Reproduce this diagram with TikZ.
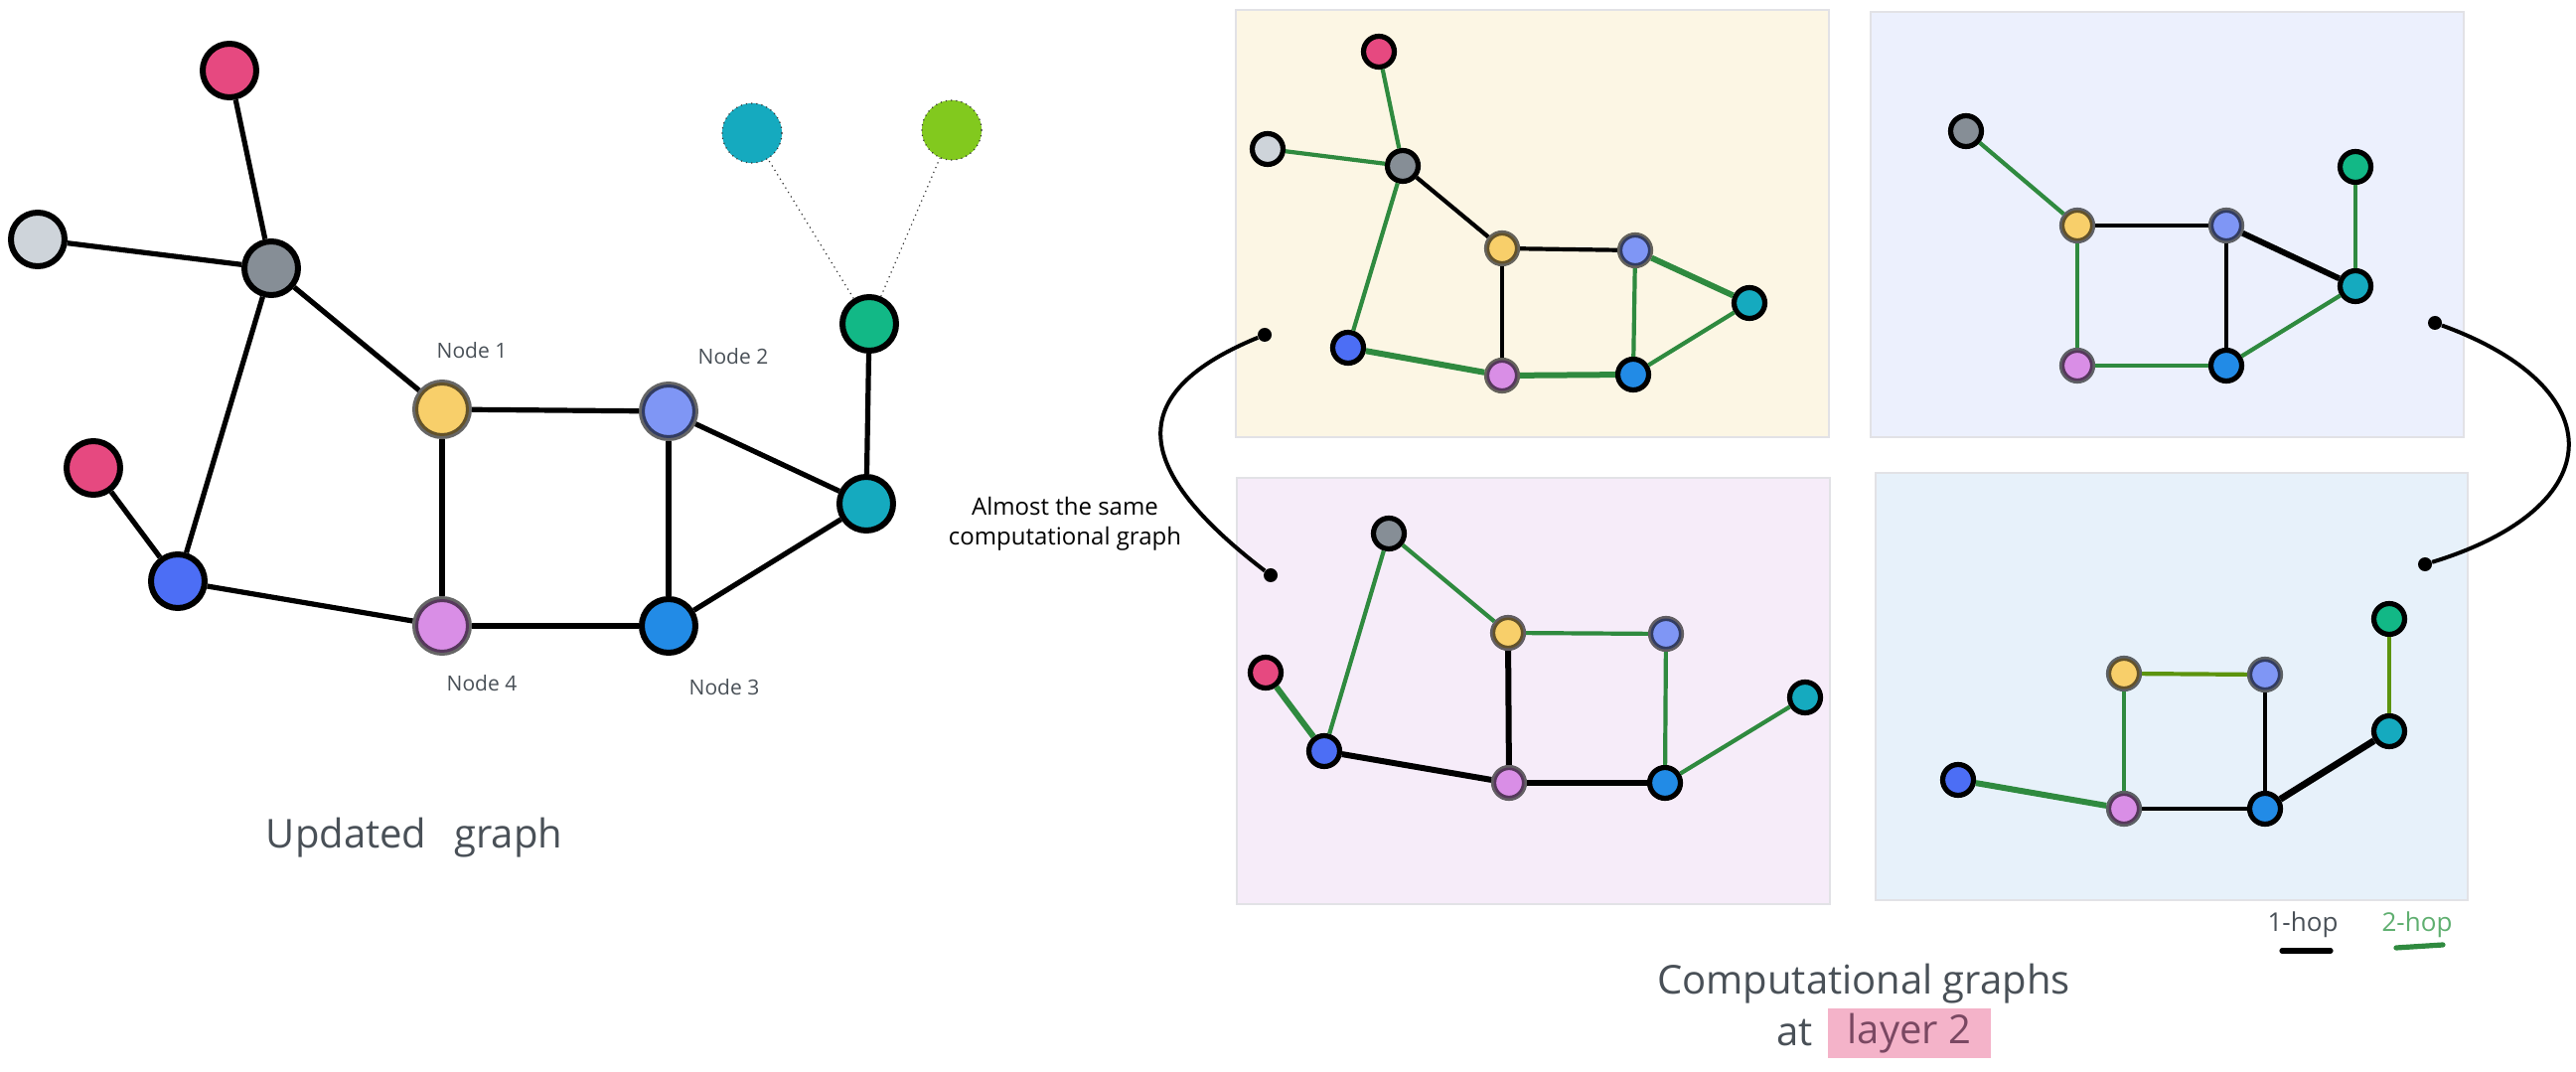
\documentclass[tikz,border=0pt]{standalone}
\usepackage{fontspec}
\setmainfont{Open Sans}
\definecolor{cpink}{HTML}{E64980}
\definecolor{clgrey}{HTML}{CED4DA}
\definecolor{cgrey}{HTML}{868E96}
\definecolor{cyellow}{HTML}{F8CF6A}
\definecolor{cperi}{HTML}{7F96F5}
\definecolor{cteal}{HTML}{15AABF}
\definecolor{cgreen}{HTML}{12B886}
\definecolor{croyal}{HTML}{4C6EF5}
\definecolor{cviolet}{HTML}{D98EE6}
\definecolor{cblue}{HTML}{228BE6}
\definecolor{clime}{HTML}{82C91E}
\definecolor{egreen}{HTML}{2F8A3F}
\definecolor{eolive}{HTML}{5C940D}
\definecolor{txtgrey}{HTML}{495057}
\definecolor{hopgreen}{HTML}{5FAF70}
\definecolor{hlpink}{HTML}{F4B3C9}
\definecolor{hltext}{HTML}{7A4862}
\definecolor{bgA}{HTML}{FCF6E4}
\definecolor{bgB}{HTML}{ECF0FD}
\definecolor{bgC}{HTML}{F6ECF9}
\definecolor{bgD}{HTML}{E7F1FA}
\definecolor{panelborder}{HTML}{E2E2E6}
\tikzset{
  bignode/.style={circle, minimum size=27pt, inner sep=0pt, line width=3pt, draw=black},
  smallnode/.style={circle, minimum size=15.5pt, inner sep=0pt, line width=2.6pt, draw=black},
  soft/.style={draw opacity=0.6},
  ghost/.style={circle, minimum size=30pt, inner sep=0pt, draw=black!80, dotted, line width=0.6pt},
  eleft/.style={line width=2.6pt, black},
  eblack/.style={line width=2.1pt, black},
  egr/.style={line width=2.1pt, egreen},
  eol/.style={line width=2.1pt, eolive},
  heavy/.style={line width=3pt},
  dotline/.style={dotted, line width=0.6pt, black!80},
  dotnode/.style={circle, fill=black, minimum size=7pt, inner sep=0pt},
  link/.style={line width=2pt, black},
  panel/.style={draw=panelborder, line width=0.6pt},
  nodelabel/.style={text=txtgrey, font=\fontsize{10.5}{12}\selectfont},
  title/.style={text=txtgrey, font=\fontsize{20}{24}\selectfont},
}
\begin{document}
\begin{tikzpicture}[x=0.5pt,y=-0.5pt]
\useasboundingbox (0,0) rectangle (2593,1079);
\fill[white] (0,0) rectangle (2593,1079);

% ---------------- Left: updated graph ----------------
\node[bignode, fill=cpink]   (Lpk1) at (231,71) {};
\node[bignode, fill=clgrey]  (Lgl)  at (38,241) {};
\node[bignode, fill=cgrey]   (Lgy)  at (273,270) {};
\node[bignode, fill=cpink]   (Lpk2) at (94,471) {};
\node[bignode, fill=croyal]  (Lrb)  at (179,585) {};
\node[bignode, soft, fill=cyellow] (Ly) at (445,412) {};
\node[bignode, soft, fill=cperi]   (Lp) at (673,414) {};
\node[bignode, fill=cteal]   (Lt)   at (872,507) {};
\node[bignode, fill=cgreen]  (Lg)   at (875,326) {};
\node[ghost, fill=cteal]     (Lc)   at (757,134) {};
\node[ghost, fill=clime]     (Ll)   at (958,131) {};
\node[bignode, soft, fill=cviolet] (Lv) at (445,630) {};
\node[bignode, fill=cblue]   (Lb)   at (673,630) {};

\draw[eleft] (Lpk1) -- (Lgy);
\draw[eleft] (Lgl) -- (Lgy);
\draw[eleft] (Lgy) -- (Ly);
\draw[eleft] (Lgy) -- (Lrb);
\draw[eleft] (Lpk2) -- (Lrb);
\draw[eleft] (Lrb) -- (Lv);
\draw[eleft] (Ly) -- (Lp);
\draw[eleft] (Ly) -- (Lv);
\draw[eleft] (Lp) -- (Lt);
\draw[eleft] (Lp) -- (Lb);
\draw[eleft] (Lt) -- (Lb);
\draw[eleft] (Lt) -- (Lg);
\draw[eleft] (Lv) -- (Lb);
\draw[dotline] (Lg) -- (Lc);
\draw[dotline] (Lg) -- (Ll);

\node[nodelabel] (t1) at (475,353) {Node 1};
\node[nodelabel] (t2) at (738,359) {Node 2};
\node[nodelabel] (t4) at (485,688) {Node 4};
\node[nodelabel] (t3) at (729,692) {Node 3};

\node[title] (upd) at (417,843) {Updated\hspace{0.7em}graph};

% ---------------- Panels ----------------
\fill[bgA] (1244,10) rectangle (1841,440);
\draw[panel] (1244,10) rectangle (1841,440);
\fill[bgB] (1883,12) rectangle (2480,440);
\draw[panel] (1883,12) rectangle (2480,440);
\fill[bgC] (1245,481) rectangle (1842,910);
\draw[panel] (1245,481) rectangle (1842,910);
\fill[bgD] (1888,476) rectangle (2484,906);
\draw[panel] (1888,476) rectangle (2484,906);

% Panel A
\node[smallnode, fill=cpink]  (Apk) at (1388,52) {};
\node[smallnode, fill=clgrey] (Agl) at (1276,150) {};
\node[smallnode, fill=cgrey]  (Agy) at (1412,167) {};
\node[smallnode, soft, fill=cyellow] (Ay) at (1512,250) {};
\node[smallnode, soft, fill=cperi]   (Ap) at (1646,252) {};
\node[smallnode, fill=cteal]  (At)  at (1761,305) {};
\node[smallnode, fill=croyal] (Arb) at (1357,350) {};
\node[smallnode, soft, fill=cviolet] (Av) at (1512,378) {};
\node[smallnode, fill=cblue]  (Ab)  at (1644,377) {};
\node[dotnode] (Adot) at (1273,337) {};
\draw[egr] (Apk) -- (Agy);
\draw[egr] (Agl) -- (Agy);
\draw[eblack] (Agy) -- (Ay);
\draw[egr] (Agy) -- (Arb);
\draw[eblack] (Ay) -- (Ap);
\draw[eblack] (Ay) -- (Av);
\draw[egr, heavy] (Ap) -- (At);
\draw[egr] (Ap) -- (Ab);
\draw[egr] (At) -- (Ab);
\draw[egr, heavy] (Arb) -- (Av);
\draw[egr, heavy] (Av) -- (Ab);

% Panel B
\node[smallnode, fill=cgrey]  (Bgy) at (1979,132) {};
\node[smallnode, soft, fill=cyellow] (By) at (2091,227) {};
\node[smallnode, soft, fill=cperi]   (Bp) at (2241,227) {};
\node[smallnode, fill=cgreen] (Bg)  at (2371,168) {};
\node[smallnode, fill=cteal]  (Bt)  at (2371,288) {};
\node[smallnode, soft, fill=cviolet] (Bv) at (2091,368) {};
\node[smallnode, fill=cblue]  (Bb)  at (2241,368) {};
\node[dotnode] (Bdot) at (2451,325) {};
\draw[egr] (Bgy) -- (By);
\draw[eblack] (By) -- (Bp);
\draw[egr] (By) -- (Bv);
\draw[eblack] (Bp) -- (Bb);
\draw[eblack, heavy] (Bp) -- (Bt);
\draw[egr] (Bg) -- (Bt);
\draw[egr] (Bt) -- (Bb);
\draw[egr] (Bv) -- (Bb);

% Panel C
\node[smallnode, fill=cgrey]  (Cgy) at (1398,537) {};
\node[smallnode, fill=cpink]  (Cpk) at (1274,677) {};
\node[smallnode, fill=croyal] (Crb) at (1333,756) {};
\node[smallnode, soft, fill=cyellow] (Cy) at (1518,637) {};
\node[smallnode, soft, fill=cperi]   (Cp) at (1677,638) {};
\node[smallnode, fill=cteal]  (Ct)  at (1817,702) {};
\node[smallnode, soft, fill=cviolet] (Cv) at (1519,788) {};
\node[smallnode, fill=cblue]  (Cb)  at (1676,788) {};
\node[dotnode] (Cdot) at (1279,579) {};
\draw[egr] (Cgy) -- (Crb);
\draw[egr] (Cgy) -- (Cy);
\draw[egr, heavy] (Cpk) -- (Crb);
\draw[eblack, heavy] (Crb) -- (Cv);
\draw[egr] (Cy) -- (Cp);
\draw[eblack, heavy] (Cy) -- (Cv);
\draw[egr] (Cp) -- (Cb);
\draw[eblack, heavy] (Cv) -- (Cb);
\draw[egr] (Cb) -- (Ct);

% Panel D
\node[smallnode, fill=croyal] (Drb) at (1971,785) {};
\node[smallnode, soft, fill=cyellow] (Dy) at (2138,678) {};
\node[smallnode, soft, fill=cperi]   (Dp) at (2280,679) {};
\node[smallnode, fill=cgreen] (Dg)  at (2405,623) {};
\node[smallnode, fill=cteal]  (Dt)  at (2405,736) {};
\node[smallnode, soft, fill=cviolet] (Dv) at (2138,814) {};
\node[smallnode, fill=cblue]  (Db)  at (2280,814) {};
\node[dotnode] (Ddot) at (2441,568) {};
\draw[egr, heavy] (Drb) -- (Dv);
\draw[eol] (Dy) -- (Dp);
\draw[egr] (Dy) -- (Dv);
\draw[eblack] (Dp) -- (Db);
\draw[eblack] (Dv) -- (Db);
\draw[eblack, line width=3.4pt] (Db) -- (Dt);
\draw[eol] (Dg) -- (Dt);

% Connectors
\draw[link] (Adot) .. controls (1120,400) and (1150,480) .. (Cdot);
\draw[link] (Bdot) .. controls (2630,390) and (2630,510) .. (Ddot);

\node[font=\fontsize{12}{15}\selectfont, align=center] (almost) at (1072,527) {Almost the same\\computational graph};

% Legend
\node[text=txtgrey, font=\fontsize{13}{15}\selectfont] (h1) at (2318,931) {1-hop};
\node[text=hopgreen, font=\fontsize{13}{15}\selectfont] (h2) at (2433,931) {2-hop};
\coordinate (u1a) at (2297,957);
\coordinate (u1b) at (2346,957);
\coordinate (u2a) at (2412,954);
\coordinate (u2b) at (2459,951);
\draw[line width=2.6pt, line cap=round, black] (u1a) -- (u1b);
\draw[line width=2.6pt, line cap=round, egreen] (u2a) -- (u2b);

% Bottom title
\node[title] (comp) at (1876,990) {Computational graphs};
\node[fill=hlpink, minimum width=82pt, minimum height=25pt, inner sep=0pt, text=hltext, font=\fontsize{20}{24}\selectfont] (lay) at (1922,1040) {layer 2};
\node[title, anchor=east] (at) at ([xshift=-4pt]lay.west) {at};
\end{tikzpicture}
\end{document}
